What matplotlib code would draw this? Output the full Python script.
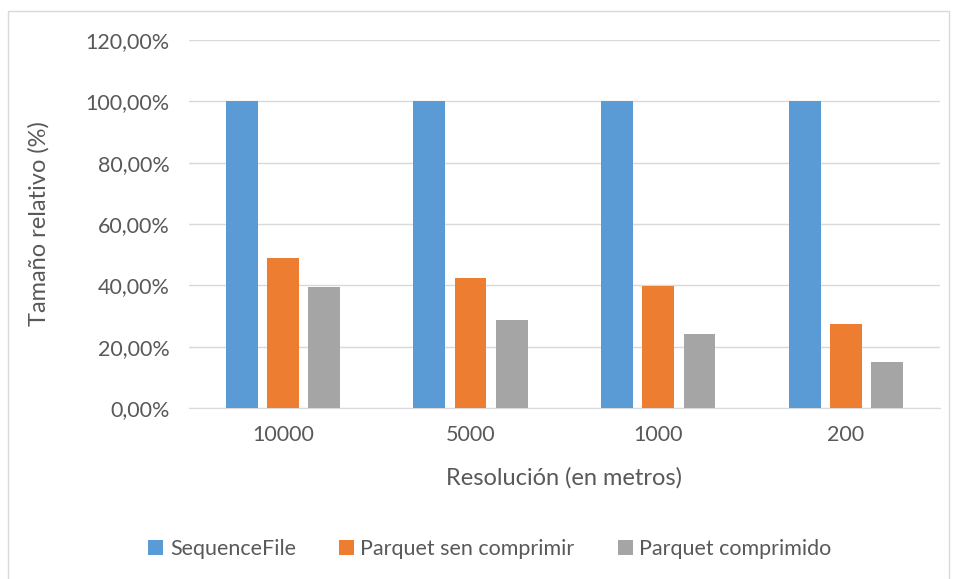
import numpy as np
import matplotlib.pyplot as plt
from matplotlib.patches import Rectangle
from matplotlib.ticker import FuncFormatter

# Tamaño relativo de cada formato segun la resolucion
resoluciones = ['10000', '5000', '1000', '200']
sequencefile = [100.0, 100.0, 100.0, 100.0]
parquet_sen = [48.8, 42.5, 39.8, 27.3]
parquet_comp = [39.3, 28.8, 24.2, 14.9]

plt.rcParams['font.family'] = ['Lato', 'DejaVu Sans']

fig = plt.figure(figsize=(9.57, 5.79), dpi=100)
ax = fig.add_axes([0.1975, 0.2953, 0.7845, 0.6357])

# borde exterior del grafico
fig.patches.append(Rectangle((8 / 957, -0.05), 941 / 957, 1.05 - 11 / 579,
                             transform=fig.transFigure, fill=False,
                             edgecolor='#d9d9d9', linewidth=1))

x = np.arange(len(resoluciones))
w = 0.17
step = 0.22
ax.bar(x - step, sequencefile, w, color='#5b9bd5', label='SequenceFile', zorder=3)
ax.bar(x, parquet_sen, w, color='#ed7d31', label='Parquet sen comprimir', zorder=3)
ax.bar(x + step, parquet_comp, w, color='#a5a5a5', label='Parquet comprimido', zorder=3)

ax.set_xlim(-0.5, 3.5)
ax.set_ylim(0, 120)
ax.set_yticks(np.arange(0, 121, 20))
ax.yaxis.set_major_formatter(FuncFormatter(lambda v, p: f'{v:.2f}%'.replace('.', ',')))
ax.set_xticks(x)
ax.set_xticklabels(resoluciones)
ax.grid(axis='y', color='#d9d9d9', linewidth=1, zorder=0)
for s in ['top', 'right', 'left']:
    ax.spines[s].set_visible(False)
ax.spines['bottom'].set_color('#d9d9d9')
ax.tick_params(length=0, labelsize=15.5, colors='#595959')
ax.tick_params(axis='y', pad=14)
ax.tick_params(axis='x', pad=12)

ax.set_xlabel('Resolución (en metros)', fontsize=17, color='#595959', labelpad=16)
ax.set_ylabel('Tamaño relativo (%)', fontsize=17, color='#595959', labelpad=26)

leg = fig.legend(loc='center', bbox_to_anchor=(0.512, 0.052), ncol=3, frameon=False,
                 fontsize=15.5, handlelength=0.7, handleheight=0.7, handletextpad=0.3,
                 columnspacing=2.0)
for t in leg.get_texts():
    t.set_color('#595959')

fig.savefig('out.png', dpi=100)
